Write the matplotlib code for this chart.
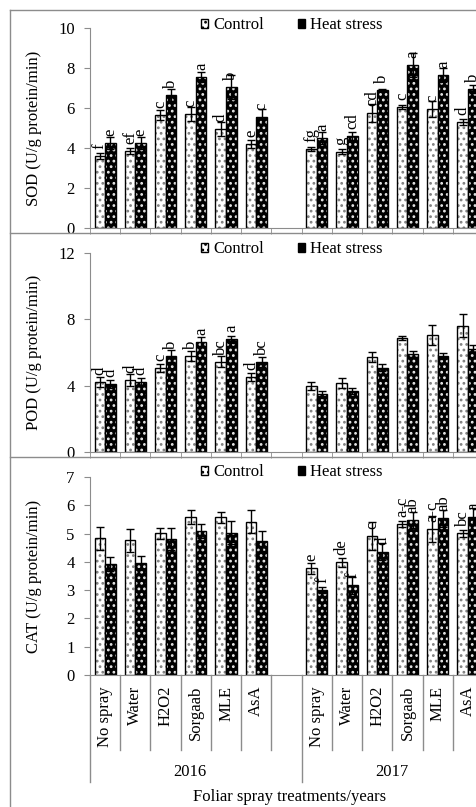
import numpy as np
import matplotlib.pyplot as plt
from matplotlib.patches import Patch
from matplotlib.transforms import blended_transform_factory

plt.rcParams['font.family'] = ['Liberation Serif', 'DejaVu Serif']
plt.rcParams['font.size'] = 12
plt.rcParams['hatch.linewidth'] = 1.2

treatments = ['No spray', 'Water', 'H2O2', 'Sorgaab', 'MLE', 'AsA']
years = ['2016', '2017']

# SOD
sod_ctrl = [3.60, 3.87, 5.65, 5.70, 4.93, 4.18, 3.95, 3.82, 5.73, 6.07, 5.93, 5.28]
sod_heat = [4.23, 4.23, 6.65, 7.57, 7.03, 5.57, 4.48, 4.60, 6.90, 8.15, 7.65, 6.93]
sod_ctrl_err = [0.15, 0.15, 0.25, 0.35, 0.35, 0.20, 0.10, 0.12, 0.45, 0.10, 0.40, 0.15]
sod_heat_err = [0.30, 0.30, 0.30, 0.25, 0.60, 0.40, 0.30, 0.20, 0.05, 0.60, 0.35, 0.20]
sod_ctrl_let = ['f', 'ef', 'c', 'c', 'd', 'e', 'fg', 'g', 'cd', 'c', 'c', 'd']
sod_heat_let = ['e', 'e', 'b', 'a', 'b', 'c', 'a', 'cd', 'b', 'a', 'a', 'b']

# POD
pod_ctrl = [4.24, 4.34, 5.08, 5.79, 5.45, 4.54, 4.00, 4.16, 5.75, 6.86, 7.07, 7.62]
pod_heat = [4.10, 4.24, 5.79, 6.65, 6.80, 5.45, 3.48, 3.68, 5.08, 5.91, 5.79, 6.23]
pod_ctrl_err = [0.30, 0.35, 0.25, 0.30, 0.35, 0.25, 0.25, 0.30, 0.30, 0.12, 0.60, 0.70]
pod_heat_err = [0.25, 0.25, 0.35, 0.30, 0.20, 0.30, 0.20, 0.20, 0.20, 0.20, 0.20, 0.20]
pod_ctrl_let = ['d', 'd', 'c', 'b', 'bc', 'd', '', '', '', '', '', '']
pod_heat_let = ['d', 'd', 'b', 'a', 'a', 'bc', '', '', '', '', '', '']

# CAT
cat_ctrl = [4.83, 4.76, 5.01, 5.58, 5.58, 5.42, 3.77, 3.98, 4.91, 5.33, 5.16, 5.01]
cat_heat = [3.92, 3.95, 4.81, 5.10, 5.03, 4.74, 3.00, 3.18, 4.36, 5.48, 5.54, 5.60]
cat_ctrl_err = [0.40, 0.40, 0.20, 0.25, 0.20, 0.40, 0.20, 0.15, 0.50, 0.10, 0.45, 0.12]
cat_heat_err = [0.25, 0.25, 0.40, 0.25, 0.40, 0.35, 0.10, 0.30, 0.30, 0.30, 0.30, 0.30]
cat_ctrl_let = ['', '', '', '', '', '', 'e', 'de', 'c', 'a-c', 'a-c', 'bc']
cat_heat_let = ['', '', '', '', '', '', 'f', 'f', 'd', 'ab', 'ab', 'a']

W, H = 477, 807
fig = plt.figure(figsize=(W / 100, H / 100), dpi=100)
GRAY = '#8c8c8c'

def fx(px):
    return px / W

def fy(py):
    return 1 - py / H

# slot positions: 6 treatments, empty slot, 6 treatments
xpos = np.array([0, 1, 2, 3, 4, 5, 7, 8, 9, 10, 11, 12])
edges = np.arange(-0.5, 13.0, 1.0)
bw = 0.35
ax_left, ax_right = 90, 483

def panel(top, bot, ymax, yticks, ylabel, ctrl, heat, ec, eh, lc, lh, leg_y):
    ax = fig.add_axes([fx(ax_left), fy(bot), fx(ax_right) - fx(ax_left), fy(top) - fy(bot)])
    xc = xpos - bw / 2
    xh = xpos + bw / 2
    ax.bar(xc, ctrl, bw, color='white', edgecolor='#808080', hatch='...', lw=0)
    ax.bar(xc, ctrl, bw, fill=False, edgecolor='black', lw=1)
    ax.bar(xh, heat, bw, color='black', edgecolor='#e8e8e8', hatch='...', lw=0)
    ax.bar(xh, heat, bw, fill=False, edgecolor='black', lw=1)
    ax.errorbar(xc, ctrl, yerr=ec, fmt='none', ecolor='black', elinewidth=1, capsize=3, capthick=1)
    ax.errorbar(xh, heat, yerr=eh, fmt='none', ecolor='black', elinewidth=1, capsize=3, capthick=1)
    for x, v, l in zip(list(xc) + list(xh), list(ctrl) + list(heat), lc + lh):
        if l:
            ax.annotate(l, (x, v), xytext=(0, 5), textcoords='offset points',
                        rotation=90, ha='center', va='bottom', fontsize=12)
    ax.set_xlim(-0.5, 12.5)
    ax.set_ylim(0, ymax)
    ax.set_yticks(yticks)
    ax.set_xticks([])
    for s in ['top', 'right']:
        ax.spines[s].set_visible(False)
    for s in ['left', 'bottom']:
        ax.spines[s].set_color(GRAY)
    ax.tick_params(axis='y', length=4, color=GRAY, pad=7, labelsize=12)
    ax.set_ylabel(ylabel, fontsize=12)
    ax.yaxis.set_label_coords((42 - ax_left) / (ax_right - ax_left), 0.5)
    handles = [Patch(facecolor='white', edgecolor='black', hatch='...', lw=1),
               Patch(facecolor='black', edgecolor='black', lw=1)]
    ax.legend(handles, ['Control', 'Heat stress'], ncol=2, frameon=False,
              loc='center left', bbox_to_anchor=(fx(201), fy(leg_y)),
              bbox_transform=fig.transFigure, handlelength=0.45, handleheight=0.45,
              handletextpad=0.3, columnspacing=2.0, borderpad=0, borderaxespad=0,
              fontsize=12)
    return ax

ax1 = panel(28, 228, 10, [0, 2, 4, 6, 8, 10], 'SOD (U/g protein/min)',
            sod_ctrl, sod_heat, sod_ctrl_err, sod_heat_err, sod_ctrl_let, sod_heat_let, 25)
ax2 = panel(253, 452, 12, [0, 4, 8, 12], 'POD (U/g protein/min)',
            pod_ctrl, pod_heat, pod_ctrl_err, pod_heat_err, pod_ctrl_let, pod_heat_let, 249)
ax3 = panel(477, 675, 7, list(range(8)), 'CAT (U/g protein/min)',
            cat_ctrl, cat_heat, cat_ctrl_err, cat_heat_err, cat_ctrl_let, cat_heat_let, 472)

for ax in (ax1, ax2):
    ax.set_xticks(edges, minor=True)
    ax.tick_params(axis='x', which='minor', length=4, color=GRAY)

# category axis of the bottom panel
tr = blended_transform_factory(ax3.transData, fig.transFigure)
for i, e in enumerate(edges):
    long = e in (-0.5, 6.5, 12.5)
    ax3.plot([e, e], [fy(675), fy(782 if long else 750)], transform=tr,
             color=GRAY, lw=1, clip_on=False)
for x, name in zip(xpos, treatments * 2):
    ax3.text(x, fy(686), name, transform=tr, rotation=90, ha='center', va='top', fontsize=12)
ax3.text(2.8, fy(772), years[0], transform=tr, ha='center', va='center', fontsize=12)
ax3.text(9.5, fy(772), years[1], transform=tr, ha='center', va='center', fontsize=12)
ax3.text(6.1, fy(797), 'Foliar spray treatments/years', transform=tr,
         ha='center', va='center', fontsize=12)

# chart area borders
for yb in (10, 233, 457):
    fig.add_artist(plt.Line2D([fx(10), 1.0], [fy(yb), fy(yb)], color=GRAY, lw=1))
fig.add_artist(plt.Line2D([fx(10), fx(10)], [fy(10), 0.0], color=GRAY, lw=1))

fig.savefig('out.png', dpi=100)
